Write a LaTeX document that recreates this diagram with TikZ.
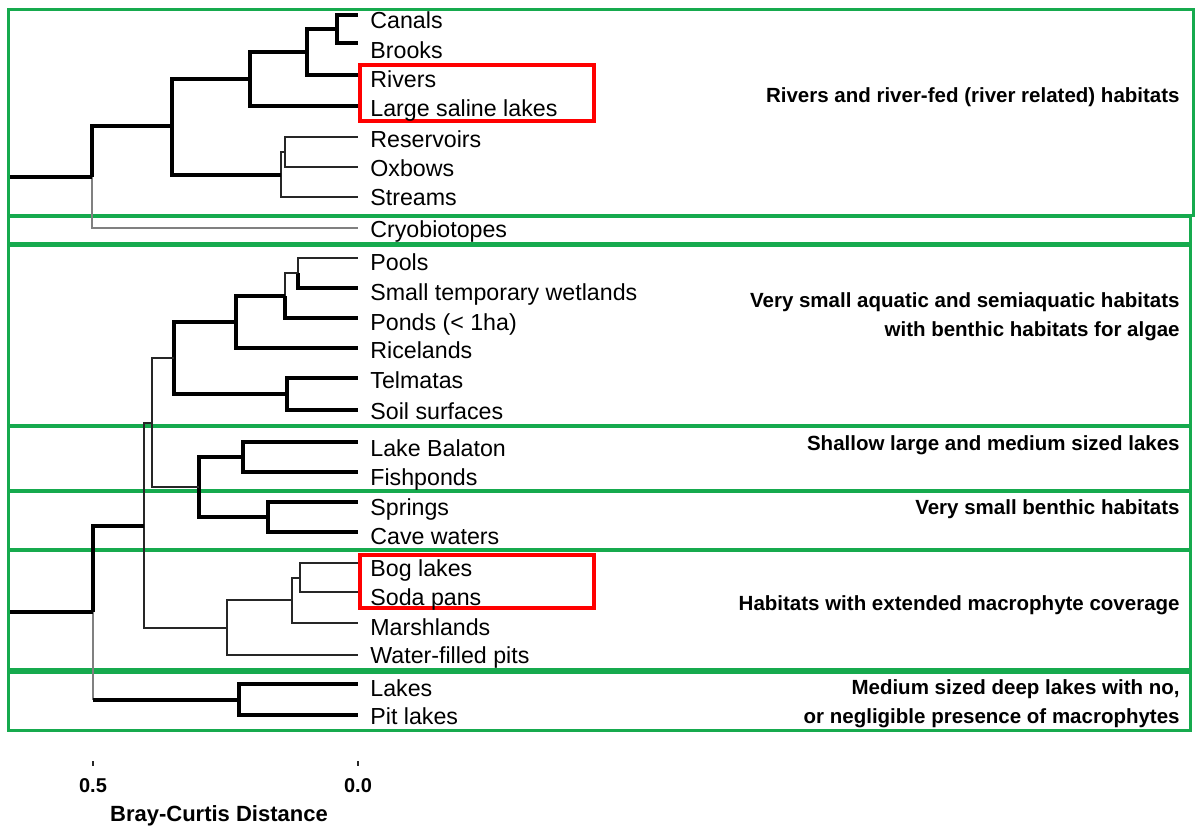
\documentclass[tikz,border=0pt]{standalone}
\usepackage{fontspec}
\setmainfont{Liberation Sans}
\definecolor{boxgreen}{RGB}{22,170,78}
\definecolor{boxred}{RGB}{255,0,0}
\begin{document}
\begin{tikzpicture}[x=0.5pt,y=-0.5pt,
  leaf/.style={anchor=west, inner sep=0pt, font=\fontsize{11.6}{13}\selectfont, text height=8.3pt, text depth=0pt},
  grp/.style={anchor=east, align=right, inner sep=0pt, font=\bfseries\fontsize{10.25}{14.5}\selectfont},
  axl/.style={inner sep=0pt, font=\bfseries\fontsize{10}{12}\selectfont},
  br/.style={line width=1.6pt, black},
  rootline/.style={line width=2pt, black},
  tn/.style={line width=0.8pt, black!85},
  gr/.style={line width=0.7pt, black!50},
  gbox/.style={draw=boxgreen, line width=1.5pt},
  rbox/.style={draw=boxred, line width=2pt}]
\useasboundingbox (0,0) rectangle (1197,827);

% ---------- green group boxes ----------
\draw[gbox] (8,9) rectangle (1193,215);
\draw[gbox] (8,216) rectangle (1190,243);
\draw[gbox] (8,245) rectangle (1190,425);
\draw[gbox] (8,426) rectangle (1190,490);
\draw[gbox] (8,491) rectangle (1190,549);
\draw[gbox] (8,550) rectangle (1190,669);
\draw[gbox] (8,672) rectangle (1190,730);

% ---------- red highlight boxes ----------
\draw[rbox] (360,65) rectangle (594,121);
\draw[rbox] (360,555) rectangle (594,608);

% ---------- leaf end points ----------
\coordinate (eCanals) at (358,15);
\coordinate (eBrooks) at (358,43);
\coordinate (eRivers) at (358,75);
\coordinate (eLarge) at (358,106);
\coordinate (eRes) at (358,137);
\coordinate (eOx) at (358,167);
\coordinate (eStr) at (358,197);
\coordinate (eCryo) at (358,228);
\coordinate (ePools) at (358,258);
\coordinate (eSmall) at (358,288);
\coordinate (ePonds) at (358,318);
\coordinate (eRice) at (358,348);
\coordinate (eTel) at (358,378);
\coordinate (eSoil) at (358,410);
\coordinate (eLB) at (358,442);
\coordinate (eFish) at (358,472);
\coordinate (eSpr) at (358,502);
\coordinate (eCave) at (358,532);
\coordinate (eBog) at (358,563);
\coordinate (eSoda) at (358,592);
\coordinate (eMarsh) at (358,623);
\coordinate (eWater) at (358,655);
\coordinate (eLakes) at (358,684);
\coordinate (ePit) at (358,715);

% ---------- leaf labels ----------
\node[leaf] (Canals) at (370,20) {Canals};
\node[leaf] (Brooks) at (370,50) {Brooks};
\node[leaf] (Rivers) at (370,79) {Rivers};
\node[leaf] (Large) at (370,108) {Large saline lakes};
\node[leaf] (Res) at (370,139) {Reservoirs};
\node[leaf] (Ox) at (370,168) {Oxbows};
\node[leaf] (Str) at (370,197) {Streams};
\node[leaf] (Cryo) at (370,229) {Cryobiotopes};
\node[leaf] (Pools) at (370,262) {Pools};
\node[leaf] (Small) at (370,292) {Small temporary wetlands};
\node[leaf] (Ponds) at (370,322) {Ponds (< 1ha)};
\node[leaf] (Rice) at (370,350) {Ricelands};
\node[leaf] (Tel) at (370,380) {Telmatas};
\node[leaf] (Soil) at (370,411) {Soil surfaces};
\node[leaf] (LB) at (370,448) {Lake Balaton};
\node[leaf] (Fish) at (370,477) {Fishponds};
\node[leaf] (Spr) at (370,507) {Springs};
\node[leaf] (Cave) at (370,536) {Cave waters};
\node[leaf] (Bog) at (370,568) {Bog lakes};
\node[leaf] (Soda) at (370,597) {Soda pans};
\node[leaf] (Marsh) at (370,627) {Marshlands};
\node[leaf] (Water) at (370,655) {Water-filled pits};
\node[leaf] (Lakes) at (370,688) {Lakes};
\node[leaf] (Pit) at (370,716) {Pit lakes};

% ---------- junctions, upper tree ----------
\coordinate (jCB) at (337,29);
\coordinate (jCBR) at (307,52);
\coordinate (jA) at (250,79);
\coordinate (jRO) at (285,152);
\coordinate (jROS) at (281,175);
\coordinate (jUp) at (172,126);
\coordinate (root1) at (92,177);
\coordinate (r1s) at (10,177);

\draw[br] (jCB) |- (eCanals);
\draw[br] (jCB) |- (eBrooks);
\draw[br] (jCBR) |- (jCB);
\draw[br] (jCBR) |- (eRivers);
\draw[br] (jA) |- (jCBR);
\draw[br] (jA) |- (eLarge);
\draw[tn] (jRO) |- (eRes);
\draw[tn] (jRO) |- (eOx);
\draw[tn] (jROS) |- (jRO);
\draw[tn] (jROS) |- (eStr);
\draw[br] (jUp) |- (jA);
\draw[br] (jUp) |- (jROS);
\draw[br] (root1) |- (jUp);
\draw[gr] (root1) |- (eCryo);
\draw[rootline] (r1s) -- (root1);

% ---------- junctions, lower tree ----------
\coordinate (jPS) at (298,273);
\coordinate (jPSP) at (285,296);
\coordinate (jPR) at (236,322);
\coordinate (jTS) at (287,394);
\coordinate (jAq) at (174,358);
\coordinate (jLS) at (243,457);
\coordinate (jSC) at (268,517);
\coordinate (jSh) at (199,487);
\coordinate (jMid) at (152,423);
\coordinate (jBS) at (300,578);
\coordinate (jBSM) at (292,600);
\coordinate (jMac) at (227,628);
\coordinate (jBig) at (144,526);
\coordinate (jLP) at (239,700);
\coordinate (root2) at (93,612);
\coordinate (r2s) at (10,612);

\draw[tn] (jPS) |- (ePools);
\draw[br] (jPS) |- (eSmall);
\draw[tn] (jPSP) |- (jPS);
\draw[br] (jPSP) |- (ePonds);
\draw[br] (jPR) |- (jPSP);
\draw[br] (jPR) |- (eRice);
\draw[br] (jTS) |- (eTel);
\draw[br] (jTS) |- (eSoil);
\draw[br] (jAq) |- (jPR);
\draw[br] (jAq) |- (jTS);
\draw[br] (jLS) |- (eLB);
\draw[br] (jLS) |- (eFish);
\draw[br] (jSC) |- (eSpr);
\draw[br] (jSC) |- (eCave);
\draw[br] (jSh) |- (jLS);
\draw[br] (jSh) |- (jSC);
\draw[tn] (jMid) |- (jAq);
\draw[tn] (jMid) |- (jSh);
\draw[tn] (jBS) |- (eBog);
\draw[tn] (jBS) |- (eSoda);
\draw[tn] (jBSM) |- (jBS);
\draw[tn] (jBSM) |- (eMarsh);
\draw[tn] (jMac) |- (jBSM);
\draw[tn] (jMac) |- (eWater);
\draw[tn] (jBig) |- (jMid);
\draw[tn] (jBig) |- (jMac);
\draw[br] (jLP) |- (eLakes);
\draw[br] (jLP) |- (ePit);
\draw[br] (root2) |- (jBig);
\draw[gr] (root2) -- (root2 |- jLP);
\draw[br] (root2 |- jLP) -- (jLP);
\draw[rootline] (r2s) -- (root2);

% ---------- group labels ----------
\node[grp] (g1) at (1180,97) {Rivers and river-fed (river related) habitats};
\node[grp] (g2) at (1180,316.5) {Very small aquatic and semiaquatic habitats\\with benthic habitats for algae};
\node[grp] (g3) at (1180,445) {Shallow large and medium sized lakes};
\node[grp] (g4) at (1180,509) {Very small benthic habitats};
\node[grp] (g5) at (1180,605) {Habitats with extended macrophyte coverage};
\node[grp] (g6) at (1180,703.5) {Medium sized deep lakes with no,\\or negligible presence of macrophytes};

% ---------- axis ----------
\coordinate (tk1) at (93,761);
\coordinate (tk2) at (358,761);
\draw[tn] (tk1) -- ++(0,5);
\draw[tn] (tk2) -- ++(0,5);
\node[axl] (l05) at (93,786) {0.5};
\node[axl] (l00) at (358,786) {0.0};
\node[inner sep=0pt, font=\bfseries\fontsize{11}{13}\selectfont] (axtitle) at (219,816) {Bray-Curtis Distance};
\end{tikzpicture}
\end{document}
